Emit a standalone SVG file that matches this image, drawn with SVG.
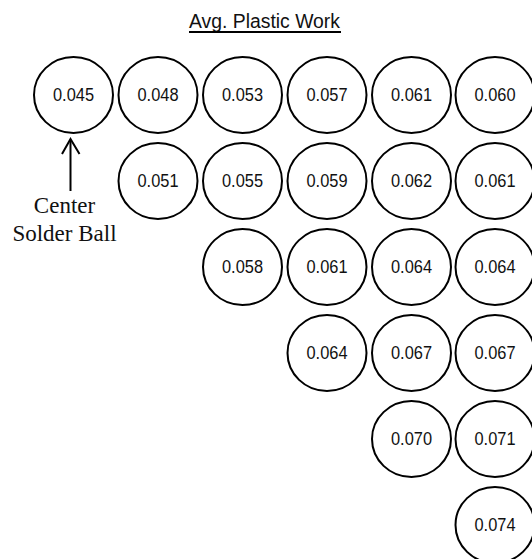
<svg xmlns="http://www.w3.org/2000/svg" width="532" height="559" viewBox="0 0 532 559">
  <style>
    .ball ellipse { fill: #fff; stroke: #000; stroke-width: 2; }
    .ball text { font-family: "Liberation Sans", Arial, sans-serif; font-size: 18px; fill: #111; text-anchor: middle; }
    .title { font-family: "Liberation Sans", Arial, sans-serif; font-size: 19.5px; fill: #111; }
    .note { font-family: "Liberation Serif", "Times New Roman", serif; font-size: 23px; fill: #111; text-anchor: middle; }
    .conn { stroke: #000; stroke-width: 2; fill: none; }
  </style>
  <rect width="532" height="559" fill="#fff"/>

  <!-- heading -->
  <g id="heading">
    <text class="title" x="189" y="27.5" textLength="151" lengthAdjust="spacingAndGlyphs">Avg. Plastic Work</text>
    <line x1="189" y1="32" x2="341" y2="32" stroke="#000" stroke-width="2"/>
  </g>

  <!-- row 1 -->
  <g id="b11" class="ball"><ellipse cx="73.5" cy="95" rx="39.5" ry="38"/><text x="73.5" y="101" textLength="41" lengthAdjust="spacingAndGlyphs">0.045</text></g>
  <g id="b12" class="ball"><ellipse cx="158" cy="95" rx="39.5" ry="38"/><text x="158" y="101" textLength="41" lengthAdjust="spacingAndGlyphs">0.048</text></g>
  <g id="b13" class="ball"><ellipse cx="242.5" cy="95" rx="39.5" ry="38"/><text x="242.5" y="101" textLength="41" lengthAdjust="spacingAndGlyphs">0.053</text></g>
  <g id="b14" class="ball"><ellipse cx="327" cy="95" rx="39.5" ry="38"/><text x="327" y="101" textLength="41" lengthAdjust="spacingAndGlyphs">0.057</text></g>
  <g id="b15" class="ball"><ellipse cx="411.5" cy="95" rx="39.5" ry="38"/><text x="411.5" y="101" textLength="41" lengthAdjust="spacingAndGlyphs">0.061</text></g>
  <g id="b16" class="ball"><ellipse cx="495" cy="95" rx="39.5" ry="38"/><text x="495" y="101" textLength="41" lengthAdjust="spacingAndGlyphs">0.060</text></g>

  <!-- row 2 -->
  <g id="b22" class="ball"><ellipse cx="158" cy="181" rx="39.5" ry="38"/><text x="158" y="187" textLength="41" lengthAdjust="spacingAndGlyphs">0.051</text></g>
  <g id="b23" class="ball"><ellipse cx="242.5" cy="181" rx="39.5" ry="38"/><text x="242.5" y="187" textLength="41" lengthAdjust="spacingAndGlyphs">0.055</text></g>
  <g id="b24" class="ball"><ellipse cx="327" cy="181" rx="39.5" ry="38"/><text x="327" y="187" textLength="41" lengthAdjust="spacingAndGlyphs">0.059</text></g>
  <g id="b25" class="ball"><ellipse cx="411.5" cy="181" rx="39.5" ry="38"/><text x="411.5" y="187" textLength="41" lengthAdjust="spacingAndGlyphs">0.062</text></g>
  <g id="b26" class="ball"><ellipse cx="495" cy="181" rx="39.5" ry="38"/><text x="495" y="187" textLength="41" lengthAdjust="spacingAndGlyphs">0.061</text></g>

  <!-- row 3 -->
  <g id="b33" class="ball"><ellipse cx="242.5" cy="267" rx="39.5" ry="38"/><text x="242.5" y="273" textLength="41" lengthAdjust="spacingAndGlyphs">0.058</text></g>
  <g id="b34" class="ball"><ellipse cx="327" cy="267" rx="39.5" ry="38"/><text x="327" y="273" textLength="41" lengthAdjust="spacingAndGlyphs">0.061</text></g>
  <g id="b35" class="ball"><ellipse cx="411.5" cy="267" rx="39.5" ry="38"/><text x="411.5" y="273" textLength="41" lengthAdjust="spacingAndGlyphs">0.064</text></g>
  <g id="b36" class="ball"><ellipse cx="495" cy="267" rx="39.5" ry="38"/><text x="495" y="273" textLength="41" lengthAdjust="spacingAndGlyphs">0.064</text></g>

  <!-- row 4 -->
  <g id="b44" class="ball"><ellipse cx="327" cy="353" rx="39.5" ry="38"/><text x="327" y="359" textLength="41" lengthAdjust="spacingAndGlyphs">0.064</text></g>
  <g id="b45" class="ball"><ellipse cx="411.5" cy="353" rx="39.5" ry="38"/><text x="411.5" y="359" textLength="41" lengthAdjust="spacingAndGlyphs">0.067</text></g>
  <g id="b46" class="ball"><ellipse cx="495" cy="353" rx="39.5" ry="38"/><text x="495" y="359" textLength="41" lengthAdjust="spacingAndGlyphs">0.067</text></g>

  <!-- row 5 -->
  <g id="b55" class="ball"><ellipse cx="411.5" cy="439" rx="39.5" ry="38"/><text x="411.5" y="445" textLength="41" lengthAdjust="spacingAndGlyphs">0.070</text></g>
  <g id="b56" class="ball"><ellipse cx="495" cy="439" rx="39.5" ry="38"/><text x="495" y="445" textLength="41" lengthAdjust="spacingAndGlyphs">0.071</text></g>

  <!-- row 6 -->
  <g id="b66" class="ball"><ellipse cx="495" cy="525" rx="39.5" ry="38"/><text x="495" y="531" textLength="41" lengthAdjust="spacingAndGlyphs">0.074</text></g>

  <!-- label pointing at the centre ball -->
  <g id="center-label">
    <text class="note" x="64.5" y="213">Center</text>
    <text class="note" x="64.5" y="241">Solder Ball</text>
  </g>

  <g id="connectors">
    <line class="conn" x1="70.5" y1="191" x2="70.5" y2="140"/>
    <polyline class="conn" points="62,154 70.5,139 79.5,154"/>
  </g>
</svg>
